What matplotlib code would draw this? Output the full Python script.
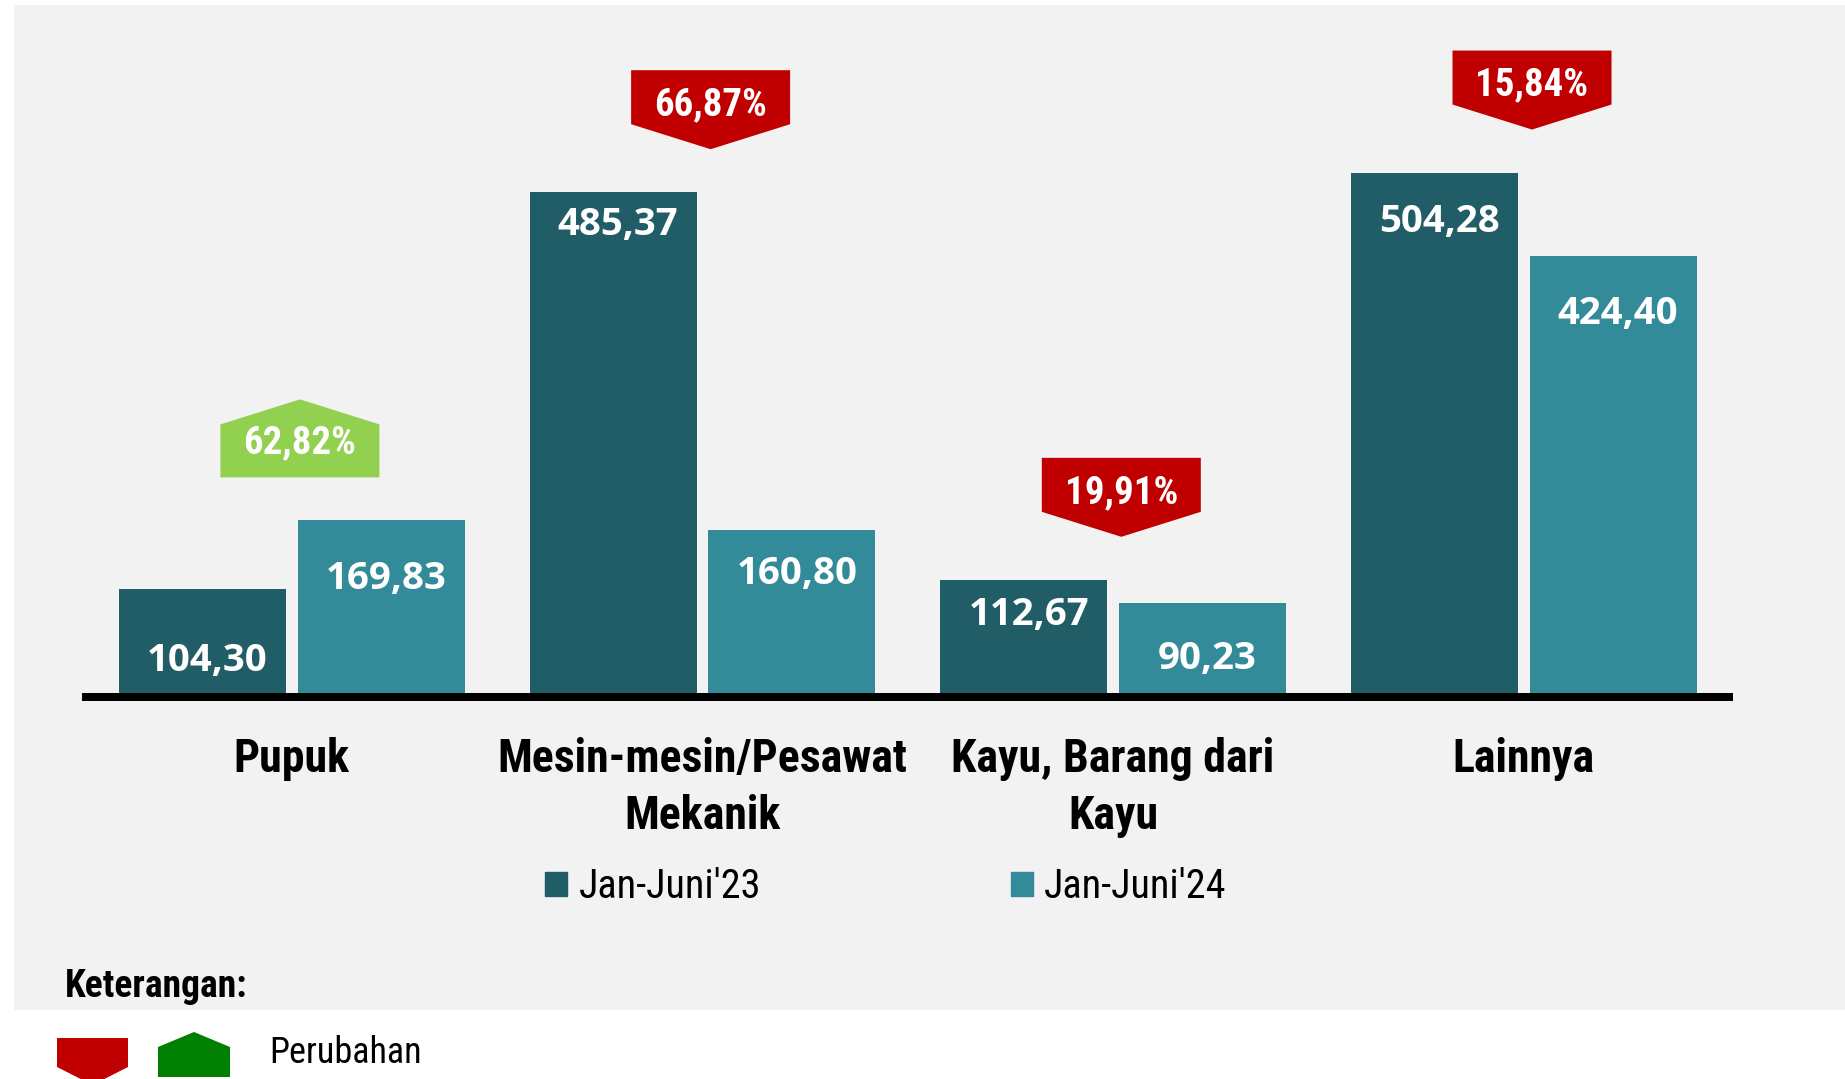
import matplotlib
matplotlib.use('Agg')
import matplotlib.pyplot as plt
from matplotlib import font_manager as fm
from matplotlib.patches import Polygon, Rectangle
import matplotlib.transforms as mtransforms
import numpy as np

# ---------------- data ----------------
categories = ["Pupuk", "Mesin-mesin/Pesawat\nMekanik", "Kayu, Barang dari\nKayu", "Lainnya"]
series_names = ["Jan-Juni'23", "Jan-Juni'24"]
values_23 = [104.30, 485.37, 112.67, 504.28]
values_24 = [169.83, 160.80, 90.23, 424.40]
change_labels = ["62,82%", "66,87%", "19,91%", "15,84%"]
change_up = [True, False, False, False]

# ---------------- style ----------------
C_DARK = '#215D66'
C_LIGHT = '#338B99'
C_RED = '#C00000'
C_GREEN_BADGE = '#92D050'
C_GREEN_KEY = '#008000'
C_BG = '#F2F2F2'
# label drop (px, from bar top to label digit centre) - style only
drop_23 = [69, 29, 32, 46]
drop_24 = [55, 41, 52, 55]

names = {f.name for f in fm.fontManager.ttflist}
NARROW = 'DejaVu Sans'
for cand in ['Liberation Sans Narrow', 'Arial Narrow', 'Roboto Condensed', 'Archivo Narrow',
             'PT Sans Narrow', 'Sofia Sans Condensed']:
    if cand in names:
        NARROW = cand
        break
VALF = 'Open Sans' if 'Open Sans' in names else 'DejaVu Sans'

def fmt(v):
    return f"{v:.2f}".replace(".", ",")

W, H, DPI = 1845, 1079, 100
fig = plt.figure(figsize=(W / DPI, H / DPI), dpi=DPI)
fig.patch.set_facecolor('white')
fig.add_artist(Rectangle((14 / W, (H - 1010) / H), 1 - 14 / W, (1010 - 5) / H,
                         transform=fig.transFigure, facecolor=C_BG, edgecolor='none', zorder=0))

zero_px = 697
px_per_unit = 1.04
ymax = 600
ax = fig.add_axes([86.35 / W, (H - zero_px) / H, 1642.8 / W, ymax * px_per_unit / H])
ax.set_xlim(-0.5, 3.5)
ax.set_ylim(0, ymax)
ax.patch.set_alpha(0)
for s in ax.spines.values():
    s.set_visible(False)
ax.set_yticks([])

x = np.arange(len(categories))
w = 0.4066
off = 0.2176
ax.bar(x - off, values_23, w, color=C_DARK, zorder=2, label=series_names[0])
ax.bar(x + off, values_24, w, color=C_LIGHT, zorder=2, label=series_names[1])
ax.axhline(0, color='black', lw=8 * 72 / DPI, zorder=3, clip_on=False)

ax.set_xticks(x)
ax.set_xticklabels(categories, fontfamily=NARROW, fontweight='bold', fontsize=33,
                   linespacing=1.37)
ax.tick_params(axis='x', length=0, pad=29)

# value labels
for vals, drops, sh in ((values_23, drop_23, -off), (values_24, drop_24, off)):
    for xi, v, d in zip(x, vals, drops):
        ax.annotate(fmt(v), xy=(xi + sh, v), xytext=(5 * 72 / DPI, -(d + 13.5) * 72 / DPI),
                    textcoords='offset points', ha='center', va='baseline',
                    color='white', fontfamily=VALF, fontweight='bold', fontsize=27.6, zorder=4)

# change badges
bw = 159 / DPI
for xi, lab, up, a, b in zip(x, change_labels, change_up, values_23, values_24):
    base = max(a, b)
    tr = fig.dpi_scale_trans + mtransforms.ScaledTranslation(xi + 0.02, base, ax.transData)
    g = 43 / DPI
    hw = bw / 2
    if up:
        verts = [(-hw, g), (hw, g), (hw, g + 0.53), (0, g + 0.78), (-hw, g + 0.53)]
        col = C_GREEN_BADGE
        ty = g + 0.38 - 0.14
    else:
        verts = [(0, g), (hw, g + 0.25), (hw, g + 0.79), (-hw, g + 0.79), (-hw, g + 0.25)]
        col = C_RED
        ty = g + 0.48 - 0.14
    fig.add_artist(Polygon(verts, closed=True, transform=tr, facecolor=col, edgecolor='none', zorder=5))
    fig.text(0, ty, lab, transform=tr, ha='center', va='baseline', color='white',
             fontfamily=NARROW, fontweight='bold', fontsize=28, zorder=6)

# legend
handles = [Rectangle((0, 0), 1, 1, color=C_DARK), Rectangle((0, 0), 1, 1, color=C_LIGHT)]
fig.legend(handles, series_names, loc='center left', bbox_to_anchor=(545 / W, 1 - 887 / H),
           ncol=2, frameon=False, prop={'family': NARROW, 'size': 29},
           handlelength=0.55, handleheight=0.55, handletextpad=0.28, columnspacing=6.2,
           borderpad=0, borderaxespad=0)

# keterangan
fig.text(65 / W, 1 - 997 / H, "Keterangan:", fontfamily=NARROW, fontweight='bold',
         fontsize=27, va='baseline', ha='left')

px = fig.dpi_scale_trans
def P(xp, yp):
    return (xp / DPI, (H - yp) / DPI)
fig.add_artist(Polygon([P(57, 1038), P(128, 1038), P(128, 1067), P(92.5, 1085), P(57, 1067)],
                       closed=True, transform=px, facecolor=C_RED, edgecolor='none'))
fig.add_artist(Polygon([P(158, 1077), P(230, 1077), P(230, 1047), P(194, 1032), P(158, 1047)],
                       closed=True, transform=px, facecolor=C_GREEN_KEY, edgecolor='none'))
fig.text(269 / W, 1 - 1063 / H, "Perubahan", fontfamily=NARROW, fontsize=26,
         va='baseline', ha='left')

fig.savefig('out.png', dpi=DPI, facecolor='white')
